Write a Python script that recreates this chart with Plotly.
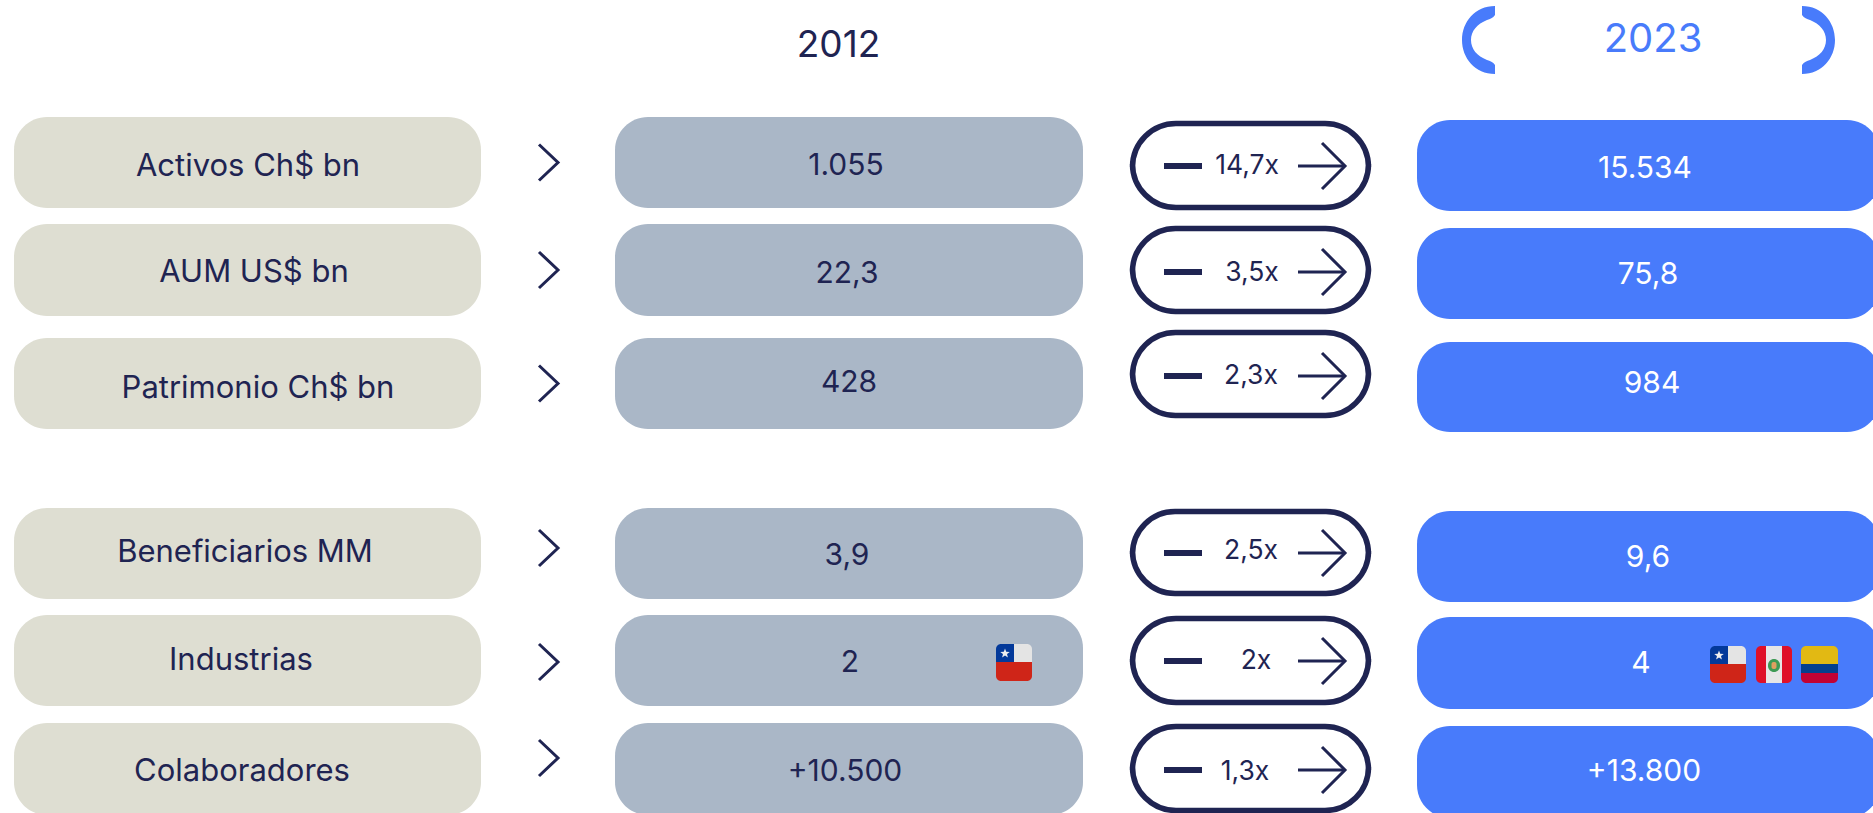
import math
import plotly.graph_objects as go

# ---------- chart content ----------
categories = ["Activos Ch$ bn", "AUM US$ bn", "Patrimonio Ch$ bn",
              "Beneficiarios MM", "Industrias", "Colaboradores"]
values_2012 = ["1.055", "22,3", "428", "3,9", "2", "+10.500"]
values_2023 = ["15.534", "75,8", "984", "9,6", "4", "+13.800"]
multiples = ["14,7x", "3,5x", "2,3x", "2,5x", "2x", "1,3x"]
years = ["2012", "2023"]

# ---------- layout (canvas pixels) ----------
W, H = 1873, 813
NAVY, BEIGE, SLATE, BLUE = "#1F2452", "#DEDED2", "#AAB7C7", "#487BFB"
FONT = "Inter, 'Noto Sans', sans-serif"

left_rows = [(117, 208), (224, 316), (338, 429), (508, 599), (615, 706), (723, 815)]
ring_rows = [(121, 210), (226, 314), (330, 418), (509, 596), (616, 705), (724, 813)]
blue_rows = [(120, 211), (228, 319), (342, 432), (511, 602), (617, 709), (726, 818)]
chev_y = [162.5, 270, 383.5, 548, 662, 758]
mark_y = [166, 272, 376, 553, 661, 770]

label_pos = [(248, 164), (254, 270), (258, 386), (245, 550), (241, 658), (242, 769)]
mid_pos = [(846, 164), (847, 272), (849, 381), (847, 554), (850, 661), (845, 770)]
mult_pos = [(1247, 164), (1252, 271), (1251, 374), (1251, 549), (1256, 659), (1245, 770)]
blue_pos = [(1645, 167), (1648, 273), (1652, 382), (1648, 556), (1641, 662), (1644, 770)]


def rr(x0, y0, x1, y1, tl=0, tr=0, br=0, bl=0):
    k = 0.4477
    return (f"M{x0+tl},{y0} L{x1-tr},{y0} C{x1-tr*k},{y0} {x1},{y0+tr*k} {x1},{y0+tr} "
            f"L{x1},{y1-br} C{x1},{y1-br*k} {x1-br*k},{y1} {x1-br},{y1} "
            f"L{x0+bl},{y1} C{x0+bl*k},{y1} {x0},{y1-bl*k} {x0},{y1-bl} "
            f"L{x0},{y0+tl} C{x0},{y0+tl*k} {x0+tl*k},{y0} {x0+tl},{y0} Z")


shapes = []


def fill(path, color):
    shapes.append(dict(type="path", path=path, fillcolor=color, line=dict(width=0), layer="below"))


def stroke(path, color=NAVY, width=3):
    shapes.append(dict(type="path", path=path, line=dict(color=color, width=width), layer="below"))


def star(cx, cy, r):
    pts = []
    for i in range(10):
        a = -math.pi / 2 + i * math.pi / 5
        q = r if i % 2 == 0 else r * 0.42
        pts.append(f"{cx+q*math.cos(a):.1f},{cy+q*math.sin(a):.1f}")
    return "M" + " L".join(pts) + " Z"


def chile(x, y):
    w, h = 36, 37
    split = 18
    fill(rr(x + split, y, x + w, y + split, 0, 5, 0, 0), "#E4E4E4")
    fill(rr(x, y, x + split, y + split, 5, 0, 0, 0), "#03399A")
    fill(rr(x, y + split, x + w, y + h, 0, 0, 5, 5), "#CF2518")
    fill(star(x + 9, y + 9.5, 5), "#EEEEEE")


def peru(x, y):
    w, h = 36, 37
    fill(rr(x, y, x + 10, y + h, 5, 0, 0, 5), "#DF1028")
    fill(rr(x + 10, y, x + 26, y + h, 0, 0, 0, 0), "#E6E6E6")
    fill(rr(x + 26, y, x + w, y + h, 0, 5, 5, 0), "#DF1028")
    fill(rr(x + 12, y + 13, x + 24, y + 26, 6, 6, 6, 6), "#3E9A55")
    fill(rr(x + 15.5, y + 16, x + 20.5, y + 23, 2, 2, 2, 2), "#E0A060")


def colombia(x, y):
    w, h = 37, 37
    fill(rr(x, y, x + w, y + 18, 5, 5, 0, 0), "#E2B913")
    fill(rr(x, y + 18, x + w, y + 27, 0, 0, 0, 0), "#04408E")
    fill(rr(x, y + 27, x + w, y + h, 0, 0, 5, 5), "#C10235")


for i in range(len(categories)):
    y0, y1 = left_rows[i]
    fill(rr(14, y0, 481, y1, 33, 33, 33, 33), BEIGE)
    fill(rr(615, y0, 1083, y1, 33, 33, 33, 33), SLATE)
    y0b, y1b = blue_rows[i]
    fill(rr(1417, y0b, 1880, y1b, 33, 33, 33, 33), BLUE)
    y0r, y1r = ring_rows[i]
    r = (y1r - y0r) / 2 - 1
    stroke(rr(1132.5, y0r + 2.5, 1368.5, y1r - 2.5, r, r, r, r), NAVY, 5.5)
    cy = chev_y[i]
    stroke(f"M539,{cy-18} L558,{cy} L539,{cy+18}", NAVY, 3)
    my = mark_y[i]
    fill(f"M1164,{my-3} L1202,{my-3} L1202,{my+3} L1164,{my+3} Z", NAVY)
    stroke(f"M1298,{my} L1345,{my}", NAVY, 3)
    stroke(f"M1322,{my-23} L1345,{my} L1322,{my+23}", NAVY, 3)

chile(996, 644)
chile(1710, 646)
peru(1756, 646)
colombia(1801, 646)

bracket = ("M1495,6 C1475,6 1462,22 1462,40 C1462,58 1475,74 1495,74 L1495,65 "
           "C1493,62 1490,61 1487,60 C1477,56 1471,49 1471,40 C1471,31 1477,24 1487,20 "
           "C1490,19 1493,18 1495,15 Z")
bracket_r = ("M1802,6 C1822,6 1835,22 1835,40 C1835,58 1822,74 1802,74 L1802,65 "
             "C1804,62 1807,61 1810,60 C1820,56 1826,49 1826,40 C1826,31 1820,24 1810,20 "
             "C1807,19 1804,18 1802,15 Z")
fill(bracket, BLUE)
fill(bracket_r, BLUE)


def text_trace(texts, pos, color, size):
    # the text box centre sits above the glyph centre, so nudge by a share of the font size
    return go.Scatter(x=[p[0] for p in pos], y=[p[1] + size * 0.13 for p in pos], text=texts,
                      mode="text", textposition="middle center", hoverinfo="skip",
                      showlegend=False, textfont=dict(family=FONT, color=color, size=size))


fig = go.Figure([
    text_trace(categories, label_pos, NAVY, 31),
    text_trace(values_2012, mid_pos, NAVY, 30),
    text_trace(multiples, mult_pos, NAVY, 26.5),
    text_trace(values_2023, blue_pos, "#FFFFFF", 30),
    text_trace([years[0]], [(838.5, 43)], NAVY, 37),
    text_trace([years[1]], [(1653, 37)], BLUE, 40),
])
fig.update_layout(
    width=W, height=H, margin=dict(l=0, r=0, t=0, b=0, pad=0, autoexpand=False),
    paper_bgcolor="white", plot_bgcolor="white", shapes=shapes, showlegend=False,
    xaxis=dict(range=[0, W], visible=False, fixedrange=True),
    yaxis=dict(range=[H, 0], visible=False, fixedrange=True),
)
fig.write_html("out.html", config={"displayModeBar": False},
               post_script="document.body.style.margin='0';document.body.style.overflow='hidden';")
